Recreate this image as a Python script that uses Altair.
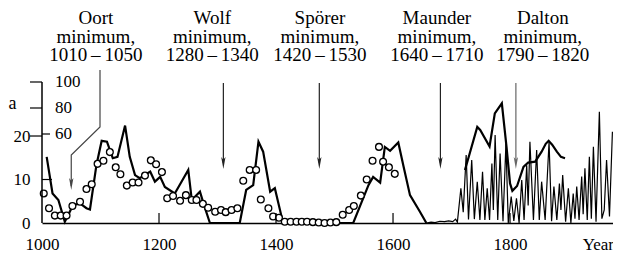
import altair as alt
import pandas as pd

FONT = "Liberation Serif"

# ---- data (value units of the 0-20 scale) ----
thick_a_year = [1008, 1018, 1028, 1039, 1053, 1065, 1076, 1082, 1093, 1102, 1111, 1121, 1129,
                1142, 1150, 1159, 1167, 1185, 1193, 1202, 1210, 1227, 1250, 1256, 1270, 1276,
                1287, 1338, 1349, 1361, 1370, 1378, 1390, 1398, 1412, 1532, 1558, 1566, 1578,
                1586, 1595, 1609, 1618, 1629, 1646, 1657]
thick_a_val = [15.2, 6.8, 5.3, 0.3, 4.1, 4.5, 3.4, 3.1, 13.3, 18.9, 18.7, 14.9, 15.2,
               22.4, 15.2, 11.0, 10.3, 11.8, 9.5, 10.6, 8.3, 6.8, 12.2, 5.3, 7.2, 4.5,
               0.0, 0.0, 7.6, 8.7, 18.7, 16.4, 7.2, 8.0, 0.0, 0.0, 8.7, 10.6, 9.3,
               17.5, 16.6, 18.5, 13.0, 6.4, 2.6, 0.0]

thick_b_year = [1723, 1744, 1749, 1765, 1774, 1786, 1794, 1800, 1804, 1812, 1823, 1831,
                1843, 1854, 1861, 1866, 1872, 1880, 1887, 1894]
thick_b_val = [12.2, 22.1, 21.4, 17.6, 25.2, 27.5, 17.5, 9.1, 7.4, 8.5, 12.9, 13.9,
               14.1, 16.4, 18.2, 18.9, 18.0, 16.4, 15.2, 14.9]

thin_year = [1657, 1665, 1672, 1680, 1688, 1695, 1702, 1707, 1710,
             1716, 1720, 1725, 1729, 1734.5, 1739, 1744, 1748.5, 1753, 1757, 1761, 1765,
             1769, 1771.5, 1774.5, 1779, 1783, 1788, 1793, 1797, 1802, 1806.5, 1811, 1815.5,
             1820, 1824, 1828.5, 1831, 1834, 1840, 1845.5, 1850, 1854, 1860, 1866.7, 1871,
             1875, 1880, 1884.4, 1887, 1890, 1895, 1899.7, 1904, 1908, 1911, 1914, 1918,
             1922.5, 1925, 1928, 1932, 1935.6, 1939, 1942.5, 1947, 1952.7, 1957, 1961,
             1965, 1970, 1975]
thin_val = [0.0, 0.2, 0.1, 0.4, 0.3, 0.5, 0.3, 0.9, 0.2,
            8.0, 2.5, 15.6, 0.8, 14.5, 0.9, 9.5, 0.7, 11.8, 0.7, 8.0, 0.7,
            13.7, 3.0, 20.2, 0.7, 16.0, 0.4, 18.3, 0.0, 6.1, 0.5, 5.7, 0.0,
            9.9, 0.7, 13.3, 4.0, 18.7, 0.7, 16.8, 0.7, 9.5, 0.7, 18.7, 0.4,
            8.4, 0.7, 9.1, 3.0, 11.0, 0.3, 8.0, 0.0, 6.8, 1.0, 8.4, 0.7,
            10.7, 2.0, 12.6, 0.7, 15.2, 1.0, 17.5, 0.3, 25.6, 1.0, 3.0,
            14.5, 1.5, 21.0]

circ_year = [1003, 1012, 1022, 1032, 1042, 1052, 1065, 1076, 1085, 1095, 1105, 1116, 1126,
             1134, 1145, 1155, 1165, 1176, 1186, 1195, 1205, 1214, 1224, 1236, 1246, 1256,
             1264, 1275, 1284, 1296, 1306, 1314, 1324, 1334, 1344, 1355, 1366, 1374, 1387,
             1395, 1405, 1415, 1425, 1435, 1444, 1453, 1463, 1473, 1483, 1493, 1503, 1514,
             1525, 1533, 1545, 1555, 1565, 1576, 1583, 1593, 1603]
circ_val = [6.8, 3.4, 1.7, 1.7, 1.7, 3.9, 4.9, 7.8, 8.9, 13.6, 14.3, 16.3, 12.8,
            11.2, 8.6, 9.3, 9.3, 10.9, 14.4, 13.5, 11.7, 5.7, 6.2, 5.1, 6.4, 5.3,
            5.3, 4.4, 3.5, 2.6, 3.0, 2.5, 3.0, 3.4, 9.7, 12.2, 12.2, 5.4, 3.4,
            1.5, 1.2, 0.3, 0.3, 0.3, 0.3, 0.3, 0.2, 0.1, 0.0, 0.1, 0.2, 1.9,
            3.0, 3.9, 6.3, 10.0, 14.3, 17.5, 14.1, 12.8, 11.3]

x_tick_years = [1000, 1200, 1400, 1600, 1800]
x_year_label_at = 1950
y_ticks = [0, 10, 20]
a_ticks = [60, 80, 100]

minima_names = ["Oort", "Wolf", "Spörer", "Maunder", "Dalton"]
minima_ranges = ["1010\u2009\u2013\u20091050", "1280\u2009\u2013\u20091340",
                 "1420\u2009\u2013\u20091530", "1640\u2009\u2013\u20091710",
                 "1790\u2009\u2013\u20091820"]
minima_arrow_year = [1050, 1310, 1474, 1681, 1810]
minima_label_year = [1092, 1291, 1475, 1675, 1856]

# ---- layout constants ----
W, H = 571, 215
X_DOM = [1000, 1976]
Y_DOM = [0, 49.43]
PX_PER_YEAR = W / (X_DOM[1] - X_DOM[0])
A_DOM = [-8.46, 156.92]

xs = alt.Scale(domain=X_DOM, nice=False, zero=False)
ys = alt.Scale(domain=Y_DOM, nice=False, zero=False)
as_ = alt.Scale(domain=A_DOM, nice=False, zero=False)

thick_df = pd.DataFrame({
    "year": thick_a_year + thick_b_year,
    "v": thick_a_val + thick_b_val,
    "seg": ["a"] * len(thick_a_year) + ["b"] * len(thick_b_year),
})
thin_df = pd.DataFrame({"year": thin_year, "v": thin_val})
circ_df = pd.DataFrame({"year": circ_year, "v": circ_val})

x_axis = alt.Axis(values=x_tick_years + [x_year_label_at], format="d",
                  labelExpr=f"datum.value == {x_year_label_at} ? 'Year' : datum.label",
                  ticks=False, tickSize=0, domain=True, domainColor="black", domainWidth=1.5,
                  labelPadding=13, labelFlush=False, labelOverlap=False, grid=False, title=None,
                  labelFont=FONT, labelFontSize=17, labelColor="black")
y_axis = alt.Axis(values=y_ticks, ticks=False, tickSize=0, domain=False, labelPadding=12,
                  labelFlush=False, labelOverlap=False, grid=False, title=None,
                  labelFont=FONT, labelFontSize=17, labelColor="black")

thin = alt.Chart(thin_df).mark_line(color="black", strokeWidth=1.2).encode(
    x=alt.X("year:Q", scale=xs, axis=x_axis),
    y=alt.Y("v:Q", scale=ys, axis=y_axis),
)
thick = alt.Chart(thick_df).mark_line(color="black", strokeWidth=2.2).encode(
    x=alt.X("year:Q", scale=xs), y=alt.Y("v:Q", scale=ys), detail="seg:N",
)
circles = alt.Chart(circ_df).mark_point(shape="circle", filled=True, fill="white",
                                        stroke="black", strokeWidth=1.3, size=46,
                                        opacity=1).encode(
    x=alt.X("year:Q", scale=xs), y=alt.Y("v:Q", scale=ys),
)

# inward x ticks
tick_px = 10
xt_df = pd.DataFrame({"year": x_tick_years[1:], "y0": 0.0,
                      "y1": tick_px * (Y_DOM[1] / H)})
xticks = alt.Chart(xt_df).mark_rule(color="black", strokeWidth=1.2).encode(
    x=alt.X("year:Q", scale=xs), y=alt.Y("y0:Q", scale=ys), y2="y1:Q")

# y ticks: 20 outward, 10 inward
yt_df = pd.DataFrame({"v": [20, 10],
                      "x0": [X_DOM[0] - 12 / PX_PER_YEAR, X_DOM[0]],
                      "x1": [X_DOM[0], X_DOM[0] + 10 / PX_PER_YEAR]})
yticks = alt.Chart(yt_df).mark_rule(color="black", strokeWidth=1.2).encode(
    x=alt.X("x0:Q", scale=xs), x2="x1:Q", y=alt.Y("v:Q", scale=ys))

# annotations
ann_df = pd.DataFrame({
    "year": minima_label_year,
    "txt": [f"{n}\nminimum,\n{r}" for n, r in zip(minima_names, minima_ranges)],
})
ann = alt.Chart(ann_df).mark_text(lineBreak="\n", align="center", baseline="alphabetic",
                                  font=FONT, fontSize=19, lineHeight=18.5,
                                  color="black").encode(
    x=alt.X("year:Q", scale=xs), y=alt.value(16), text="txt:N")

u_per_px = Y_DOM[1] / H
arr_df = pd.DataFrame({
    "year": minima_arrow_year[1:],
    "top": [(215 - 75) * u_per_px] * 4,
    "head": [(215 - 155) * u_per_px] * 4,
    "col": ["#222", "#222", "#222", "#666"],
})
arrows = alt.Chart(arr_df).mark_rule(strokeWidth=1.2).encode(
    x=alt.X("year:Q", scale=xs), y=alt.Y("top:Q", scale=ys), y2="head:Q",
    color=alt.Color("col:N", scale=None))

head_shape = "M0,1 L-0.36,-1 L0,-0.55 L0.36,-1 Z"
heads_df = pd.DataFrame({
    "year": minima_arrow_year,
    "head": [(215 - 176) * u_per_px] + [(215 - 155) * u_per_px] * 4,
    "col": ["#444", "#222", "#222", "#222", "#666"],
})
heads = alt.Chart(heads_df).mark_point(shape=head_shape, filled=True, size=144,
                                       opacity=1, strokeWidth=0).encode(
    x=alt.X("year:Q", scale=xs), y=alt.Y("head:Q", scale=ys),
    color=alt.Color("col:N", scale=None))

# Oort leader (bent line from label to arrow)
leader_label_x = X_DOM[0] + (100 - 42) / PX_PER_YEAR
oort_df = pd.DataFrame({
    "year": [leader_label_x, leader_label_x, minima_arrow_year[0], minima_arrow_year[0]],
    "v": [(215 - 62) * u_per_px, (215 - 119) * u_per_px, (215 - 147) * u_per_px,
          (215 - 178) * u_per_px],
    "o": [0, 1, 2, 3],
})
oort = alt.Chart(oort_df).mark_line(color="#444", strokeWidth=1.2).encode(
    x=alt.X("year:Q", scale=xs), y=alt.Y("v:Q", scale=ys), order="o:Q")

main = alt.layer(thin, thick, circles, xticks, yticks, oort, arrows, heads, ann)

# secondary "a" scale (60-100) drawn on the same axis line
a_lab_df = pd.DataFrame({"v": a_ticks, "x": [X_DOM[0]] * 3, "lab": [str(t) for t in a_ticks]})
a_labels = alt.Chart(a_lab_df).mark_text(align="left", baseline="middle", font=FONT,
                                         fontSize=17, dx=13, color="black").encode(
    x=alt.X("x:Q", scale=xs), y=alt.Y("v:Q", scale=as_, axis=None), text="lab:N")
a_tick_df = pd.DataFrame({
    "v": a_ticks,
    "x0": [X_DOM[0], X_DOM[0] - 12 / PX_PER_YEAR, X_DOM[0] - 12 / PX_PER_YEAR],
    "x1": [X_DOM[0] + 8 / PX_PER_YEAR, X_DOM[0], X_DOM[0]],
})
a_ticks_mark = alt.Chart(a_tick_df).mark_rule(color="black", strokeWidth=1.2).encode(
    x=alt.X("x0:Q", scale=xs), x2="x1:Q", y=alt.Y("v:Q", scale=as_, axis=None))
axis_line = alt.Chart(pd.DataFrame({"x": [X_DOM[0]], "top": [max(a_ticks)]})).mark_rule(
    color="black", strokeWidth=1.5).encode(
    x=alt.X("x:Q", scale=xs), y=alt.Y("top:Q", scale=as_, axis=None), y2=alt.value(H))
a_text = alt.Chart(pd.DataFrame({"t": ["a"]})).mark_text(
    font=FONT, fontSize=18, baseline="middle", align="center", color="black").encode(
    x=alt.value(-29.5), y=alt.value(96), text="t:N")

sec = alt.layer(axis_line, a_ticks_mark, a_labels, a_text)

chart = alt.layer(main, sec).resolve_scale(y="independent").properties(
    width=W, height=H,
    padding={"left": 34, "top": 0, "right": 0, "bottom": 34},
    autosize=alt.AutoSizeParams(type="none"),
).configure(font=FONT).configure_view(stroke=None).configure_axis(
    grid=False, labelFont=FONT).configure_text(font=FONT)

chart.save("out.html", embed_options={"renderer": "svg", "actions": False})
